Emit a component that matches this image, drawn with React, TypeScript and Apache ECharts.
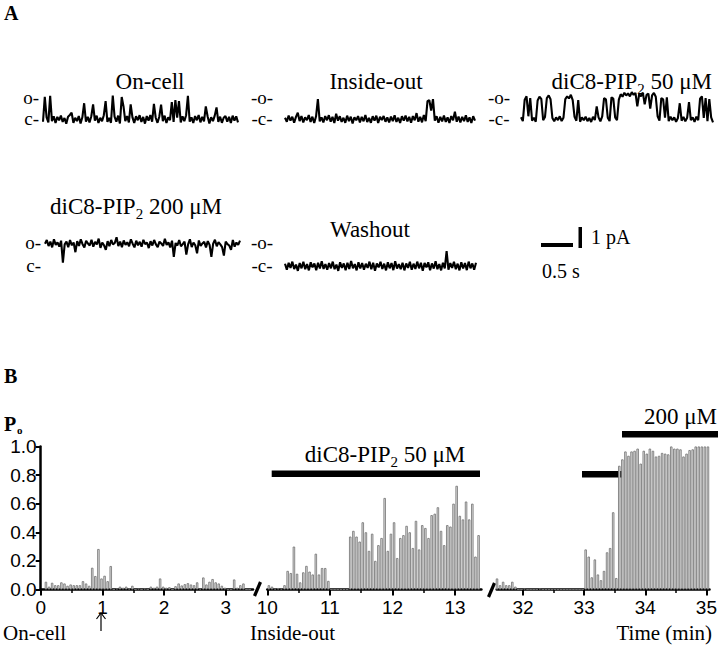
import React, { useEffect, useRef } from 'react';
import * as echarts from 'echarts';

// ---- Panel A: single-channel current traces (0 = closed level, 100 = open level) ----
const TRACE_ONCELL = [-13,105,8,-16,110,-10,13,-19,10,-6,16,-14,5,-22,11,19,30,-18,6,-10,14,-21,8,75,-13,10,-16,13,70,-8,16,-19,6,-11,18,85,-14,5,-18,112,11,-13,16,-21,105,60,-10,14,-16,70,8,-19,13,-6,18,-14,10,-22,14,-8,19,-13,72,6,-18,11,68,-10,16,-19,8,-5,80,-14,90,6,85,-16,13,-10,18,110,-13,8,-19,14,-6,19,-16,10,-11,60,13,-21,8,-10,16,55,-14,11,-18,6,14,-13,10,-19,16,-8,13,-16];
const TRACE_INSIDEOUT = [6,-13,16,-8,11,-18,10,30,-10,14,-16,8,-6,19,-14,11,-19,13,95,-11,8,-16,14,-6,18,-13,10,-19,25,-8,13,-14,6,-18,16,-10,11,-21,8,-6,14,-16,10,-11,19,-14,5,-18,13,-8,16,-19,10,-5,14,-13,8,-16,11,-10,18,-14,6,-19,13,-8,16,-11,10,-18,14,-6,28,-13,10,-16,19,-10,85,90,40,95,-8,13,-18,10,-11,16,-14,8,-19,14,-6,35,-13,11,-16,10,-10,18,-14,8,-19,13,-8];
const TRACE_PIP50 = [8,-10,92,108,13,100,-8,6,-13,88,106,96,-6,10,100,112,94,5,-11,8,-5,13,-10,6,95,108,98,115,90,10,-8,90,-13,8,-6,11,-10,5,-14,10,-5,60,8,-11,13,100,94,6,-10,103,97,8,-6,92,118,106,125,112,122,108,128,115,124,60,118,108,126,70,115,121,50,112,124,106,13,-8,100,94,6,103,-10,11,-6,8,-13,5,75,-8,10,-11,6,80,-5,8,-14,11,-6,97,108,5,100,-10,95,8,-16];
const TRACE_PIP200 = [97,113,87,106,81,116,92,103,84,110,15,94,106,82,113,90,102,60,108,87,116,95,81,110,98,89,114,84,105,94,119,79,102,90,70,108,86,113,94,100,125,87,106,82,111,92,103,86,116,97,81,110,90,105,84,114,95,102,78,108,89,113,94,82,106,98,87,118,92,103,81,110,40,100,89,113,86,95,106,50,94,116,82,102,90,55,111,87,98,105,81,108,92,40,97,114,86,103,94,82,45,106,95,89,70,113,84,102,92,110];
const TRACE_WASHOUT = [10,-16,14,-8,19,-13,6,-21,13,-10,18,-14,8,-19,16,-6,11,-18,14,-11,21,-13,8,-16,13,-10,19,-14,6,-21,16,-8,11,-18,14,-13,22,-10,8,-19,16,-11,13,-16,10,-8,19,-14,14,-21,11,-6,18,-13,10,-19,16,-10,13,-18,21,-11,8,-14,14,-19,11,-8,18,-16,10,-13,19,-10,14,-21,13,-6,16,-18,11,-11,21,-14,8,-19,14,-10,65,-16,13,-8,18,-14,10,-19,16,-11,13,-18,19,-10,11,-16,14];

// ---- Panel B: open probability in 3-s bins (time in min) ----
const BIN = 0.05;
const SEG1_T0 = 0.085;
const SEG1_PO = [0.054,0.02,0.047,0.03,0.03,0.05,0.042,0.026,0.035,0.03,0.03,0.03,0.058,0.042,0.026,0.152,0.094,0.283,0.077,0.096,0.058,0.164,0,0.007,0.02,0.012,0.02,0.007,0.026,0,0.005,0,0.005,0,0.02,0.012,0.02,0.077,0.02,0.012,0.016,0,0.023,0.042,0.028,0.037,0.044,0.035,0.03,0.05,0.005,0.084,0.035,0.054,0.073,0.05,0.042,0.026,0.012,0,0,0.07,0.012,0.03,0.042,0,0];
const SEG2_T0 = 10.025;
const SEG2_PO = [0.03,0.02,0.005,0.01,0.005,0.03,0.13,0.115,0.30,0.11,0.05,0.12,0.165,0.125,0.105,0.25,0.105,0.15,0.15,0.06,0,0,0,0,0,0,0.37,0.41,0.37,0.335,0.47,0.40,0.27,0.39,0.20,0.31,0.36,0.64,0.27,0.39,0.47,0.22,0.36,0.38,0.445,0.40,0.29,0.48,0.28,0.45,0.43,0.36,0.52,0.53,0.575,0.41,0.31,0.45,0.44,0.60,0.725,0.515,0.49,0.615,0.49,0.60,0.23,0.38];
const SEG3_T0 = 31.575;
const SEG3_PO = [0.077,0.03,0.054,0.03,0.03,0.054,0.02,0,0,0.005,0,0,0,0,0.005,0,0,0,0,0,0,0,0,0,0,0,0,0,0,0.28,0.23,0.085,0.21,0.105,0.065,0.13,0.26,0.29,0.54,0.08,0.865,0.91,0.965,0.935,0.965,0.97,0.985,0.88,0.97,0.95,0.985,0.97,0.93,0.935,0.955,0.95,0.945,1.0,0.985,0.985,0.98,0.93,0.95,0.975,0.98,1.0,1.0,1.0,1.0,1.0];

const Y_TICKS = [0, 0.2, 0.4, 0.6, 0.8, 1.0];
const SEG1_TICKS = [0, 1, 2, 3];
const SEG1_MINOR = [0.5, 1.5, 2.5];
const SEG2_TICKS = [10, 11, 12, 13];
const SEG2_MINOR = [10.5, 11.5, 12.5];
const SEG3_TICKS = [32, 33, 34, 35];
const SEG3_MINOR = [32.5, 33.5, 34.5];

const SERIF = '"Liberation Serif", "DejaVu Serif", serif';
const SANS = '"Liberation Sans", Arial, sans-serif';

const toPairs = (arr: number[], t0: number) => arr.map((v, i) => [t0 + i * BIN, v]);
const idxPairs = (arr: number[]) => arr.map((v, i) => [i, v]);

let measureCtx: CanvasRenderingContext2D | null = null;
function measure(text: string, font: string): number {
  if (!measureCtx) measureCtx = document.createElement('canvas').getContext('2d');
  if (!measureCtx) return text.length * 10;
  measureCtx.font = font;
  return measureCtx.measureText(text).width;
}

function buildOption(): any {
  const traces = [
    { data: TRACE_ONCELL, left: 43, width: 195, top: 87.5, height: 42 },
    { data: TRACE_INSIDEOUT, left: 285, width: 190, top: 87.5, height: 42 },
    { data: TRACE_PIP50, left: 521, width: 192, top: 87.5, height: 42 },
    { data: TRACE_PIP200, left: 45, width: 195, top: 231.5, height: 46 },
    { data: TRACE_WASHOUT, left: 285, width: 191, top: 231.5, height: 46 },
  ];
  const segs = [
    { data: SEG1_PO, t0: SEG1_T0, min: 0, max: 3.44, left: 40.7, width: 212.3, ticks: SEG1_TICKS, minor: SEG1_MINOR },
    { data: SEG2_PO, t0: SEG2_T0, min: 10, max: 13.42, left: 267.3, width: 214.1, ticks: SEG2_TICKS, minor: SEG2_MINOR },
    { data: SEG3_PO, t0: SEG3_T0, min: 31.57, max: 35.05, left: 496.7, width: 218.2, ticks: SEG3_TICKS, minor: SEG3_MINOR },
  ];
  const grid: any[] = [];
  const xAxis: any[] = [];
  const yAxis: any[] = [];
  const series: any[] = [];

  traces.forEach((t, i) => {
    grid.push({ left: t.left, top: t.top, width: t.width, height: t.height });
    xAxis.push({ type: 'value', gridIndex: i, min: 0, max: t.data.length - 1, show: false });
    yAxis.push({ type: 'value', gridIndex: i, min: -50, max: 150, show: false });
    series.push({
      type: 'line', xAxisIndex: i, yAxisIndex: i, data: idxPairs(t.data),
      symbol: 'none', silent: true, lineStyle: { color: '#000', width: 2.1 },
    });
  });

  segs.forEach((s, j) => {
    const gi = traces.length + j;
    grid.push({ left: s.left, top: 446.5, width: s.width, height: 143 });
    xAxis.push({
      type: 'value', gridIndex: gi, min: s.min, max: s.max, position: 'bottom',
      axisLine: { show: true, lineStyle: { color: '#000', width: 2.5 } },
      axisTick: { show: true, customValues: s.ticks, length: 6, lineStyle: { color: '#000', width: 2 } },
      axisLabel: { show: true, customValues: s.ticks, margin: 8, color: '#000', fontSize: 19, fontFamily: SANS },
      splitLine: { show: false },
    });
    yAxis.push({
      type: 'value', gridIndex: gi, min: 0, max: 1, interval: 0.2, show: j === 0,
      axisLine: { show: true, lineStyle: { color: '#000', width: 2.5 } },
      axisTick: { show: true, length: 5, lineStyle: { color: '#000', width: 2 } },
      axisLabel: {
        show: true, margin: 4, color: '#000', fontSize: 19, fontFamily: SANS,
        formatter: (v: number) => (Y_TICKS.some((y) => Math.abs(y - v) < 1e-6) ? v.toFixed(1) : ''),
      },
      splitLine: { show: false },
    });
    series.push({
      type: 'bar', xAxisIndex: gi, yAxisIndex: gi, data: toPairs(s.data, s.t0),
      barWidth: 2.4, silent: true,
      itemStyle: { color: '#dedede', borderColor: '#707070', borderWidth: 0.8 },
    });
  });

  segs.forEach((s, j) => {
    const gi = traces.length + j;
    xAxis.push({
      type: 'value', gridIndex: gi, min: s.min, max: s.max, position: 'bottom', offset: 0,
      axisLine: { show: false },
      axisTick: { show: true, customValues: s.minor, length: 3.5, lineStyle: { color: '#000', width: 1.5 } },
      axisLabel: { show: false },
      splitLine: { show: false },
    });
  });

  const txt = (text: string, x: number, y: number, opts: any = {}) => ({
    type: 'text', x, y, silent: true,
    style: {
      text, fill: '#000', font: `${opts.weight || 'normal'} ${opts.size || 23}px ${opts.family || SERIF}`,
      textAlign: opts.align || 'left', textVerticalAlign: 'middle',
    },
  });
  // text with a subscript, e.g. "diC8-PIP" + "2" + " 50 μM"
  const subTxt = (before: string, sub: string, after: string, x: number, y: number, align: string, size = 23) => {
    const subSize = Math.round(size * 0.65);
    const w1 = measure(before, `${size}px ${SERIF}`);
    const w2 = measure(sub, `${subSize}px ${SERIF}`);
    const w3 = measure(after, `${size}px ${SERIF}`);
    const total = w1 + w2 + w3;
    const x0 = align === 'left' ? x : align === 'right' ? x - total : x - total / 2;
    return [
      txt(before, x0, y, { size }),
      txt(sub, x0 + w1, y + size * 0.34, { size: subSize }),
      txt(after, x0 + w1 + w2, y, { size }),
    ];
  };
  const rect = (x: number, y: number, w: number, h: number) => ({
    type: 'rect', silent: true, shape: { x, y, width: w, height: h }, style: { fill: '#000' },
  });

  const graphic: any[] = [
    txt('A', 4, 13, { weight: 'bold', size: 20 }),
    txt('On-cell', 150, 81, { align: 'center' }),
    txt('Inside-out', 376, 81, { align: 'center' }),
    ...subTxt('diC8-PIP', '2', ' 50 μM', 712, 81, 'right'),
    txt('o-', 39, 97, { align: 'right', size: 19 }),
    txt('c-', 39, 118, { align: 'right', size: 19 }),
    txt('-o-', 262, 97, { align: 'center', size: 19 }),
    txt('-c-', 262, 118, { align: 'center', size: 19 }),
    txt('-o-', 499, 97, { align: 'center', size: 19 }),
    txt('-c-', 499, 118, { align: 'center', size: 19 }),
    ...subTxt('diC8-PIP', '2', ' 200 μM', 50, 206, 'left'),
    txt('Washout', 370, 229, { align: 'center' }),
    txt('o-', 41, 242, { align: 'right', size: 19 }),
    txt('c-', 41, 265, { align: 'right', size: 19 }),
    txt('-o-', 262, 242, { align: 'center', size: 19 }),
    txt('-c-', 262, 265, { align: 'center', size: 19 }),
    rect(541, 243, 32, 4),
    rect(578.5, 227, 3.5, 21),
    txt('0.5 s', 542, 271, { size: 20 }),
    txt('1 pA', 591, 237, { size: 20 }),
    txt('B', 4, 376, { weight: 'bold', size: 20 }),
    txt('P', 4, 424, { weight: 'bold', size: 20 }),
    txt('o', 17, 430, { weight: 'bold', size: 11 }),
    rect(271.7, 470.5, 208.3, 6.5),
    ...subTxt('diC8-PIP', '2', ' 50 μM', 385, 454, 'center'),
    rect(582, 471, 40, 6.5),
    rect(622, 431, 96, 6.5),
    txt('200 μM', 717, 416, { align: 'right' }),
    { type: 'line', silent: true, shape: { x1: 254.5, y1: 596, x2: 260.5, y2: 582 }, style: { stroke: '#000', lineWidth: 3.2 } },
    { type: 'line', silent: true, shape: { x1: 488.5, y1: 597, x2: 494.5, y2: 583 }, style: { stroke: '#000', lineWidth: 3.2 } },
    txt('On-cell', 3, 633, { size: 21 }),
    txt('Inside-out', 250, 633, { size: 21 }),
    txt('Time (min)', 712, 633, { size: 21, align: 'right' }),
    { type: 'polyline', silent: true, shape: { points: [[96.5, 619], [101, 613], [105.5, 619]] }, style: { stroke: '#000', lineWidth: 1.2, fill: 'none' } },
    { type: 'line', silent: true, shape: { x1: 101, y1: 613, x2: 101, y2: 631 }, style: { stroke: '#000', lineWidth: 1.2 } },
  ];

  return { animation: false, backgroundColor: '#fff', grid, xAxis, yAxis, series, graphic };
}

export default function App() {
  const ref = useRef<HTMLDivElement>(null);
  useEffect(() => {
    if (!ref.current) return;
    const chart = echarts.init(ref.current, undefined, { renderer: 'svg' });
    chart.setOption(buildOption());
    return () => chart.dispose();
  }, []);
  return (
    <div
      ref={ref}
      style={{ position: 'fixed', left: 0, top: 0, width: 720, height: 650, background: '#fff' }}
    />
  );
}
